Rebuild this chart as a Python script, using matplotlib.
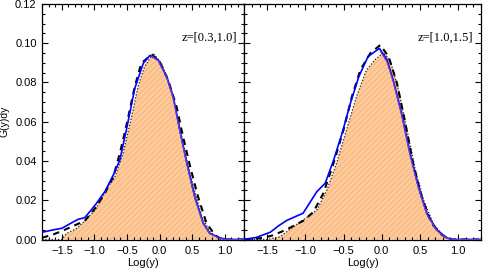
import numpy as np
import matplotlib.pyplot as plt
from matplotlib.ticker import MultipleLocator

# ---- data ----
# left panel, z=[0.3,1.0]
xl_blue = [-1.80, -1.62, -1.50, -1.35, -1.25, -1.15, -1.05, -0.97, -0.84, -0.71, -0.61, -0.51,
           -0.38, -0.25, -0.15, -0.02, 0.11, 0.21, 0.31, 0.42, 0.54, 0.67, 0.77, 0.93, 1.05, 1.30]
gl_blue = [0.0037, 0.0050, 0.0057, 0.0085, 0.0103, 0.0111, 0.0150, 0.0184, 0.0244, 0.0329, 0.0405, 0.0558,
           0.0771, 0.0898, 0.0938, 0.0915, 0.0830, 0.0728, 0.0558, 0.0388, 0.0218, 0.0083, 0.0031, 0.0008, 0.0, 0.0]

xl_dash = [-1.80, -1.63, -1.50, -1.27, -1.15, -0.97, -0.84, -0.71, -0.61, -0.51, -0.38, -0.28,
           -0.12, 0.00, 0.13, 0.26, 0.36, 0.47, 0.59, 0.72, 0.85, 0.95, 1.30]
gl_dash = [0.0009, 0.0026, 0.0043, 0.0077, 0.0094, 0.0167, 0.0236, 0.0320, 0.0439, 0.0580, 0.0780, 0.0898,
           0.0943, 0.0906, 0.0813, 0.0677, 0.0524, 0.0370, 0.0218, 0.0083, 0.0023, 0.0, 0.0]

xl_hist = [-1.80, -1.50, -1.43, -1.27, -1.15, -0.99, -0.81, -0.69, -0.56, -0.43, -0.33, -0.23,
           -0.10, 0.03, 0.16, 0.29, 0.39, 0.52, 0.65, 0.77, 0.90, 0.98, 1.30]
gl_hist = [0.0, 0.0, 0.0030, 0.0057, 0.0094, 0.0150, 0.0262, 0.0315, 0.0439, 0.0626, 0.0780, 0.0881,
           0.0949, 0.0898, 0.0780, 0.0610, 0.0440, 0.0270, 0.0116, 0.0040, 0.0007, 0.0, 0.0]

xl_fit = [-0.12, -0.02, 0.11, 0.21, 0.31, 0.42, 0.54, 0.67, 0.77, 0.93, 1.05, 1.30]
gl_fit = [0.0935, 0.0910, 0.0825, 0.0720, 0.0550, 0.0380, 0.0210, 0.0080, 0.0030, 0.0005, 0.0, 0.0]

# right panel, z=[1.0,1.5]
xr_blue = [-1.80, -1.64, -1.46, -1.35, -1.245, -1.03, -0.85, -0.74, -0.63, -0.52, -0.41, -0.30,
           -0.18, -0.03, 0.07, 0.15, 0.26, 0.37, 0.48, 0.59, 0.72, 0.85, 0.94, 1.30]
gr_blue = [0.0, 0.0011, 0.0037, 0.0070, 0.0097, 0.0134, 0.0244, 0.0287, 0.0405, 0.0540, 0.0695, 0.0830,
           0.0932, 0.0974, 0.0915, 0.0813, 0.0643, 0.0440, 0.0270, 0.0134, 0.0050, 0.0008, 0.0, 0.0]

xr_dash = [-1.80, -1.55, -1.42, -1.245, -1.03, -0.895, -0.765, -0.63, -0.50, -0.39, -0.28, -0.15,
           -0.02, 0.09, 0.20, 0.31, 0.41, 0.52, 0.65, 0.79, 0.90, 1.30]
gr_dash = [0.0, 0.0008, 0.0022, 0.0051, 0.0095, 0.0140, 0.0235, 0.0390, 0.0560, 0.0729, 0.0864, 0.0949,
           0.0991, 0.0932, 0.0796, 0.0590, 0.0390, 0.0220, 0.0083, 0.0023, 0.0, 0.0]

xr_hist = [-1.80, -1.50, -1.33, -1.16, -1.03, -0.85, -0.72, -0.59, -0.46, -0.33, -0.20, -0.09,
           0.02, 0.11, 0.22, 0.33, 0.44, 0.55, 0.68, 0.81, 0.92, 1.30]
gr_hist = [0.0, 0.0, 0.0014, 0.0065, 0.0099, 0.0150, 0.0250, 0.0390, 0.0560, 0.0729, 0.0864, 0.0915,
           0.0953, 0.0915, 0.0762, 0.0560, 0.0355, 0.0200, 0.0075, 0.0019, 0.0, 0.0]

xr_fit = [-0.02, 0.07, 0.15, 0.26, 0.37, 0.48, 0.59, 0.72, 0.85, 0.94, 1.30]
gr_fit = [0.0960, 0.0905, 0.0805, 0.0635, 0.0430, 0.0262, 0.0128, 0.0046, 0.0006, 0.0, 0.0]

labels = ['z=[0.3,1.0]', 'z=[1.0,1.5]']
yticks = [0.00, 0.02, 0.04, 0.06, 0.08, 0.10, 0.12]
xticks = [-1.5, -1.0, -0.5, 0.0, 0.5, 1.0]

W, H = 501, 278
fig = plt.figure(figsize=(W / 100, H / 100), dpi=100)
top, bot = 4.0, 239.5
axl = fig.add_axes([42.3 / W, 1 - bot / H, 202.0 / W, (bot - top) / H])
axr = fig.add_axes([244.3 / W, 1 - bot / H, 236.7 / W, (bot - top) / H])

panels = [
    (axl, xl_blue, gl_blue, xl_dash, gl_dash, xl_hist, gl_hist, xl_fit, gl_fit),
    (axr, xr_blue, gr_blue, xr_dash, gr_dash, xr_hist, gr_hist, xr_fit, gr_fit),
]

for k, (ax, xb, gb, xd, gd, xh, gh, xf, gf) in enumerate(panels):
    ax.fill_between(xh, gh, 0, facecolor='#ffcc99', edgecolor='none', zorder=1)
    ax.fill_between(xh, gh, 0, facecolor='none', edgecolor='#f7b98a', hatch='//////',
                    linewidth=0, zorder=1.5)
    ax.plot(xh, gh, color='#222222', ls=(0, (1, 1.5)), lw=0.9, zorder=2)
    ax.plot(xd, gd, color='black', ls=(0, (3, 2.5)), lw=1.5, zorder=3)
    ax.plot(xb, gb, color='#0000ff', lw=1.2, zorder=4)
    ax.plot(xf, gf, color='#6a3fc8', lw=0.9, zorder=5)

    ax.set_xlim(-1.8, 1.3)
    ax.set_ylim(0, 0.12)
    ax.set_xticks(xticks)
    ax.set_yticks(yticks)
    ax.xaxis.set_minor_locator(MultipleLocator(0.1))
    ax.yaxis.set_minor_locator(MultipleLocator(0.005))
    ax.tick_params(which='both', direction='in', top=True, right=True, width=0.8,
                   labelsize=8, colors='black')
    ax.tick_params(which='major', length=4)
    ax.tick_params(which='minor', length=2)
    ax.tick_params(axis='x', pad=5)
    ax.tick_params(axis='y', pad=4)
    for s in ax.spines.values():
        s.set_linewidth(0.9)
    ax.set_xticklabels(['\u22121.5', '\u22121.0', '\u22120.5', '0.0', '0.5', '1.0'],
                       family='Liberation Sans')
    ax.set_xlabel('Log(y)', family='Liberation Sans', fontsize=8, labelpad=1)
    ax.text(0.965, 0.857, labels[k], transform=ax.transAxes, ha='right', va='center',
            family='Liberation Serif', fontsize=9)

axl.set_yticklabels(['0.00', '0.02', '0.04', '0.06', '0.08', '0.10', '0.12'], family='Liberation Sans')
axl.set_ylabel('G(y)dy', family='Liberation Sans', fontsize=7.5, labelpad=4)
axr.set_yticklabels([])

fig.savefig('out.png', dpi=100)
